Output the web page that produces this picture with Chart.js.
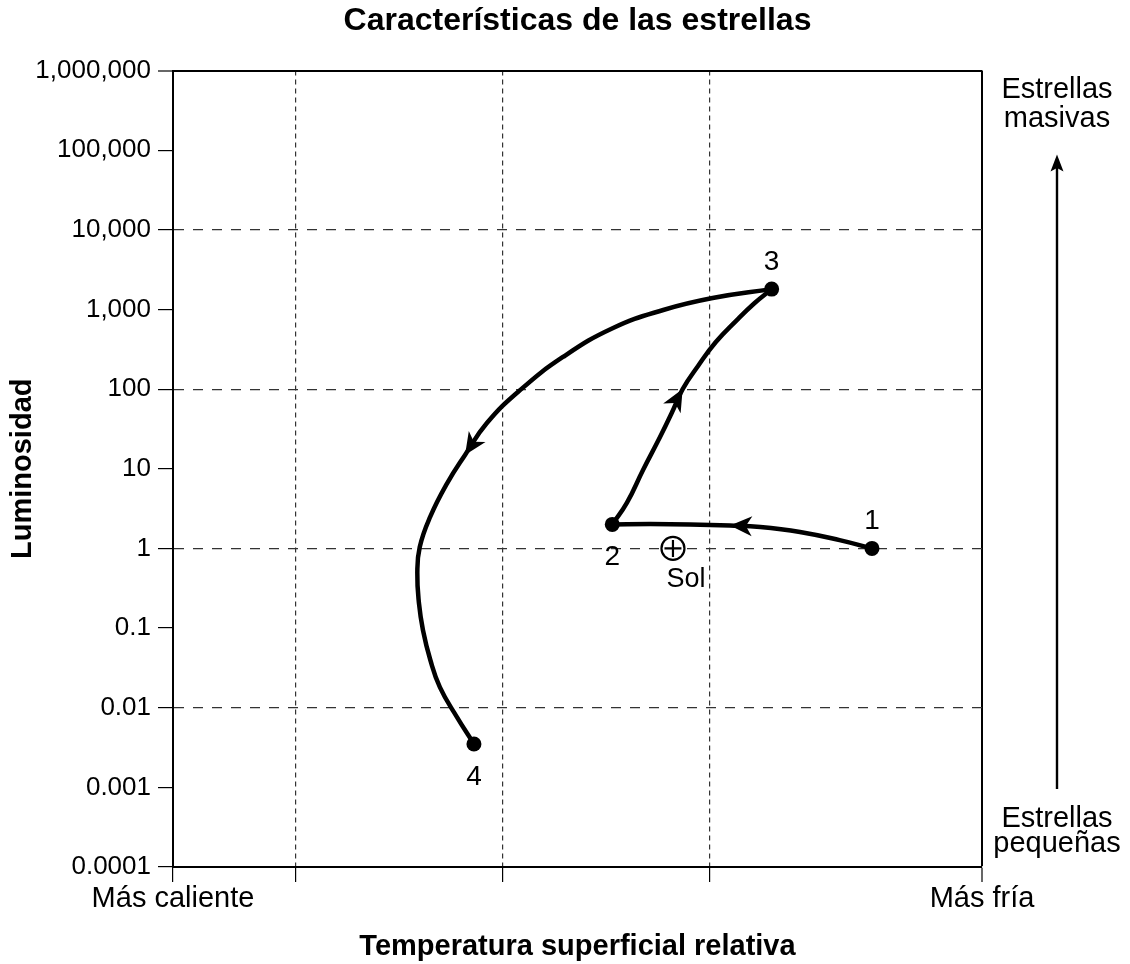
<!DOCTYPE html>
<html>
<head>
<meta charset="utf-8">
<script src="https://cdn.jsdelivr.net/npm/chart.js@4.4.1/dist/chart.umd.min.js"></script>
<style>
  html, body { margin: 0; padding: 0; background: #fff; }
</style>
</head>
<body>
<canvas id="chart" width="1130" height="964"></canvas>
<script>
// axis ticks
const yTickValues = [1e-4, 1e-3, 0.01, 0.1, 1, 10, 100, 1000, 1e4, 1e5, 1e6];
const yTickLabels = ['0.0001', '0.001', '0.01', '0.1', '1', '10', '100', '1,000', '10,000', '100,000', '1,000,000'];
const yGridValues = [0.01, 1, 100, 1e4];
const xTickValues = [0, 15.1, 40.7, 66.3, 100];
const xTickLabels = ['Más caliente', '', '', '', 'Más fría'];

// evolutionary path of the star (relative temperature, luminosity)
const path12X = [86.4, 82.4, 77.5, 72.6, 68.85, 63.9, 59.0, 54.3];
const path12Y = [1, 1.27, 1.61, 1.86, 1.94, 2.0, 2.02, 2.0];
const path23X = [54.3, 56.1, 58.1, 60.2, 61.7, 63.0, 64.9, 67.1, 69.7, 71.9, 74.0];
const path23Y = [2.0, 3.72, 9.64, 25, 51.5, 100, 195, 390, 736, 1205, 1800];
const path34X = [74.0, 66.7, 60.6, 54.4, 48.2, 42.9, 38.8, 36.1, 33.9, 31.8, 30.5, 30.2, 30.4, 30.9, 31.8, 33.0, 35.1, 37.2];
const path34Y = [1800, 1390, 985, 585, 253, 97, 37.5, 14.9, 6.6, 2.5, 1.04, 0.49, 0.206, 0.094, 0.040, 0.018, 0.0076, 0.0035];
const arrowIndex = [4, 5, 7];

// numbered stages
const starX = [86.4, 54.3, 74.0, 37.2];
const starY = [1, 2, 1800, 0.0035];
const starLabels = ['1', '2', '3', '4'];
const starLabelBelow = [false, true, false, true];

// the Sun
const solX = 61.8;
const solY = 1;

const FONT = '"Liberation Sans", Arial, Helvetica, sans-serif';

function toPoints(xs, ys) {
  return xs.map((x, i) => ({x: x, y: ys[i]}));
}

function arrowHead(ctx, x, y, ang, len, half, notch) {
  ctx.save();
  ctx.translate(x, y);
  ctx.rotate(ang);
  ctx.beginPath();
  ctx.moveTo(0, 0);
  ctx.lineTo(-len, -half);
  ctx.lineTo(-len * notch, 0);
  ctx.lineTo(-len, half);
  ctx.closePath();
  ctx.fillStyle = '#000';
  ctx.fill();
  ctx.restore();
}

const annotate = {
  id: 'annotate',
  afterDatasetsDraw(chart) {
    const ctx = chart.ctx;
    const area = chart.chartArea;
    const xs = chart.scales.x, ys = chart.scales.y;

    // arrow heads along the path
    arrowIndex.forEach((idx, d) => {
      const meta = chart.getDatasetMeta(d);
      const pt = meta.data[idx];
      const prev = meta.data[idx - 1];
      let dx = pt.x - pt.cp1x, dy = pt.y - pt.cp1y;
      if (!isFinite(dx) || Math.hypot(dx, dy) < 0.5) {
        dx = pt.x - prev.x; dy = pt.y - prev.y;
      }
      arrowHead(ctx, pt.x, pt.y, Math.atan2(dy, dx), 22, 10, 0.72);
    });

    ctx.save();
    ctx.fillStyle = '#000';
    ctx.textAlign = 'center';
    ctx.textBaseline = 'alphabetic';

    // stage numbers
    ctx.font = '28px ' + FONT;
    starLabels.forEach((t, i) => {
      const px = xs.getPixelForValue(starX[i]);
      const py = ys.getPixelForValue(starY[i]);
      ctx.fillText(t, px, starLabelBelow[i] ? py + 41 : py - 19);
    });

    // Sol
    ctx.font = '27px ' + FONT;
    ctx.fillText('Sol', xs.getPixelForValue(solX) + 13, ys.getPixelForValue(solY) + 39);

    // right side annotation
    const cx = area.right + 75;
    ctx.font = '29px ' + FONT;
    ctx.fillText('Estrellas', cx, area.top + 27.5);
    ctx.fillText('masivas', cx, area.top + 56.5);
    ctx.fillText('Estrellas', cx, area.bottom - 40);
    ctx.fillText('pequeñas', cx, area.bottom - 15);

    ctx.beginPath();
    ctx.moveTo(cx, area.bottom - 78);
    ctx.lineTo(cx, area.top + 96);
    ctx.lineWidth = 2.4;
    ctx.strokeStyle = '#000';
    ctx.stroke();
    arrowHead(ctx, cx, area.top + 84, -Math.PI / 2, 17, 6.5, 0.8);
    ctx.restore();
  }
};

const pathStyle = {
  showLine: true,
  borderColor: '#000',
  borderWidth: 4.5,
  borderCapStyle: 'round',
  borderJoinStyle: 'round',
  pointRadius: 0,
  tension: 0.45,
  fill: false,
  order: 3
};

new Chart(document.getElementById('chart'), {
  type: 'scatter',
  data: {
    datasets: [
      Object.assign({data: toPoints(path12X, path12Y)}, pathStyle),
      Object.assign({data: toPoints(path23X, path23Y)}, pathStyle),
      Object.assign({data: toPoints(path34X, path34Y)}, pathStyle),
      {
        data: toPoints(starX, starY),
        pointRadius: 7.5,
        pointBackgroundColor: '#000',
        pointBorderColor: '#000',
        pointBorderWidth: 0,
        order: 0
      },
      {
        data: [{x: solX, y: solY}],
        pointStyle: 'circle',
        pointRadius: 11.5,
        pointBackgroundColor: '#fff',
        pointBorderColor: '#000',
        pointBorderWidth: 2.2,
        order: 1
      },
      {
        data: [{x: solX, y: solY}],
        pointStyle: 'cross',
        pointRadius: 8.5,
        pointBorderColor: '#000',
        pointBorderWidth: 2.2,
        order: 0
      }
    ]
  },
  options: {
    responsive: false,
    animation: false,
    events: [],
    layout: {padding: {left: 0, right: 148, top: 0, bottom: 0}},
    plugins: {
      legend: {display: false},
      tooltip: {enabled: false},
      title: {
        display: true,
        fullSize: false,
        text: 'Características de las estrellas',
        color: '#000',
        font: {family: FONT, size: 32, weight: 'bold'},
        padding: {top: 2, bottom: 30.1}
      }
    },
    scales: {
      x: {
        type: 'linear',
        position: 'bottom',
        min: 0,
        max: 100,
        afterBuildTicks: (s) => { s.ticks = xTickValues.map(v => ({value: v})); },
        afterFit: (s) => { s.height = 97; },
        ticks: {
          autoSkip: false,
          maxRotation: 0,
          minRotation: 0,
          padding: 0,
          color: '#000',
          font: {family: FONT, size: 29},
          callback: (v, i) => xTickLabels[i]
        },
        grid: {
          color: (c) => c.tick && c.tick.value === 100 ? '#000' : (c.tick && c.tick.value === 0 ? 'rgba(0,0,0,0)' : '#333'),
          lineWidth: (c) => c.tick && c.tick.value === 100 ? 2 : 1.2,
          tickColor: '#000',
          tickWidth: 1.2,
          tickLength: 15
        },
        border: {
          display: true,
          color: '#000',
          width: 2,
          dash: (c) => c.tick && c.tick.value !== 100 && c.tick.value !== 0 ? [5, 4] : []
        },
        title: {
          display: true,
          text: 'Temperatura superficial relativa',
          color: '#000',
          font: {family: FONT, size: 29, weight: 'bold'},
          padding: {top: 0, bottom: 0}
        }
      },
      y: {
        type: 'logarithmic',
        position: 'left',
        min: 1e-4,
        max: 1e6,
        afterBuildTicks: (s) => { s.ticks = yTickValues.map(v => ({value: v})); },
        afterFit: (s) => { s.width = 173; },
        ticks: {
          autoSkip: false,
          padding: 7,
          color: '#000',
          font: {family: FONT, size: 26},
          callback: (v, i) => yTickLabels[i]
        },
        grid: {
          color: (c) => {
            if (!c.tick) return 'rgba(0,0,0,0)';
            if (c.tick.value === 1e6) return '#000';
            return yGridValues.includes(c.tick.value) ? '#333' : 'rgba(0,0,0,0)';
          },
          lineWidth: (c) => c.tick && c.tick.value === 1e6 ? 2 : 1.2,
          tickColor: '#000',
          tickWidth: 1.2,
          tickLength: 15
        },
        border: {
          display: true,
          color: '#000',
          width: 2,
          dash: (c) => c.tick && c.tick.value !== 1e6 ? [10, 9] : []
        },
        title: {
          display: true,
          text: 'Luminosidad',
          color: '#000',
          font: {family: FONT, size: 29, weight: 'bold'},
          padding: {top: 6, bottom: 0}
        }
      }
    }
  },
  plugins: [annotate]
});
</script>
</body>
</html>
